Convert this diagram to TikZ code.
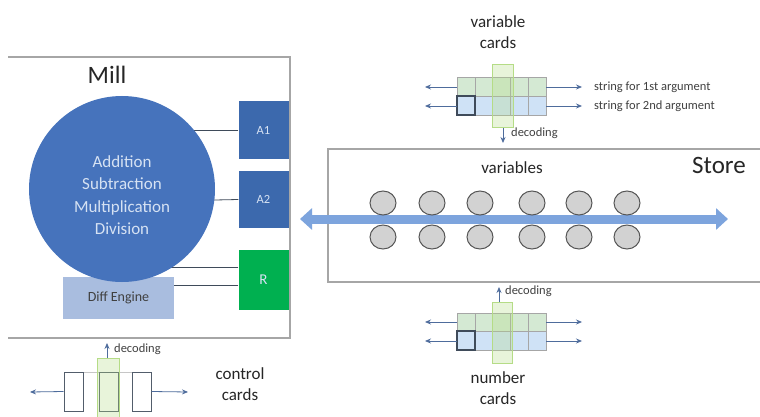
\documentclass[tikz,border=0pt]{standalone}
\usepackage{fontspec}
\setmainfont{Carlito}
\usetikzlibrary{arrows.meta}
\definecolor{millblue}{HTML}{4673BC}
\definecolor{regblue}{HTML}{3C69AD}
\definecolor{reggreen}{HTML}{00B050}
\definecolor{diffblue}{HTML}{A9BDDF}
\definecolor{circtext}{HTML}{D6E2F3}
\definecolor{bigarrow}{HTML}{7DA4DD}
\definecolor{cardarrowc}{HTML}{4E6C9C}
\definecolor{cardgreen}{HTML}{D4E9D3}
\definecolor{cardblue}{HTML}{CFE2F6}
\definecolor{barline}{HTML}{B5DC86}
\definecolor{framegray}{HTML}{A6A6A6}
\definecolor{linkgray}{HTML}{3F4B5A}
\definecolor{varfill}{HTML}{D2D2D2}
\definecolor{varline}{HTML}{555555}
\tikzset{
  x=1pt, y=-1pt,
  frame/.style={draw=framegray, line width=1.1pt},
  regbox/.style={rectangle, fill=regblue, text=circtext, minimum width=50pt, font=\fontsize{12.5}{14}\selectfont, inner sep=0pt},
  link/.style={draw=linkgray, line width=0.8pt},
  varcirc/.style={ellipse, draw=varline, fill=varfill, line width=1pt, minimum width=26pt, minimum height=24pt, inner sep=0pt},
  cardarrow/.style={draw=cardarrowc, line width=0.8pt, -{Stealth[length=6pt,width=5pt]}},
  cellgreen/.style={fill=cardgreen, draw=gray!70, line width=0.5pt},
  cellblue/.style={fill=cardblue, draw=gray!70, line width=0.5pt},
  decbar/.style={draw=barline, line width=1pt, fill=barline, fill opacity=0.3},
  smalltext/.style={font=\fontsize{12.5}{14}\selectfont, text=black!75, inner sep=0pt},
  midtext/.style={font=\fontsize{17}{21}\selectfont, text=black!85, align=center, inner sep=0pt},
  bigtext/.style={font=\fontsize{25}{28}\selectfont, text=black!85, inner sep=0pt},
  ctlcard/.style={rectangle, draw=linkgray!90, line width=1pt, fill=white, minimum width=19pt, minimum height=39pt, inner sep=0pt}
}
\usetikzlibrary{shapes.geometric}
\begin{document}
\begin{tikzpicture}
\useasboundingbox[fill=white] (0,0) rectangle (760,417);

% ---------- Mill ----------
\draw[frame] (8,57) -- (290,57) -- (290,338) -- (8,338);
\node[bigtext] (milltitle) at (107,75) {Mill};

\node[rectangle, fill=diffblue, minimum width=111pt, minimum height=42pt, inner sep=0pt,
      font=\fontsize{14}{16}\selectfont, text=black!75] (diff) at (118.5,298) {\raisebox{-4pt}{Diff Engine}};

\node[regbox, minimum height=58pt] (A1) at (263.5,130) {A1};
\node[regbox, minimum height=57pt] (A2) at (263.5,199.5) {A2};
\node[regbox, minimum height=60pt, fill=reggreen, font=\fontsize{15}{17}\selectfont] (R) at (263.5,280) {R};

\draw[link] (A1.west) -- (122,130);
\draw[link] (A2.west) -- (122,202);
\draw[link] ([yshift=13pt]R.west) -- (122,267);
\draw[link] ([yshift=-5pt]R.west) -- (diff.east |- 0,285);

\node[circle, fill=millblue, minimum size=186pt, inner sep=0pt] (ops) at (122,189) {};
\node[text=circtext, align=center, inner sep=0pt, font=\fontsize{17}{22.5}\selectfont]
      (opstext) at (122,195) {Addition\\Subtraction\\Multiplication\\Division};

% ---------- Store ----------
\draw[frame] (760,149) -- (328,149) -- (328,282) -- (760,282);
\node[bigtext] (storetitle) at (719,165) {Store};
\node[midtext] (vars) at (512,168) {variables};

\coordinate (bl) at (300,219);
\coordinate (br) at (728,219);
\draw[bigarrow, line width=9pt, {Triangle[length=12pt,width=21pt]}-{Triangle[length=12pt,width=21pt]}] (bl) -- (br);

\foreach \i/\x in {1/383,2/432,3/480,4/532,5/579,6/627}{
  \node[varcirc] (vt\i) at (\x,203) {};
  \node[varcirc] (vb\i) at (\x,237) {};
}

% ---------- variable cards ----------
\node[midtext] (vclabel) at (498,32) {variable\\cards};
\foreach \c in {0,...,4}{
  \draw[cellgreen] ({457+17.8*\c},77) rectangle ({457+17.8*(\c+1)},96);
  \draw[cellblue]  ({457+17.8*\c},96) rectangle ({457+17.8*(\c+1)},115);
}
\node[rectangle, minimum width=89pt, minimum height=38pt, inner sep=0pt] (vgrid) at (501.5,96) {};
\draw[draw=linkgray, line width=1.4pt] (457,96) rectangle (474.8,115);
\draw[decbar] (492,65) rectangle (513,128);
\coordinate (vbar) at (503,128);
\coordinate (vl1) at (425,87);
\coordinate (vl2) at (425,106);
\coordinate (vr1) at (582,87);
\coordinate (vr2) at (582,106);
\draw[cardarrow] (vgrid.west |- vl1) -- (vl1);
\draw[cardarrow] (vgrid.west |- vl2) -- (vl2);
\draw[cardarrow] (vgrid.east |- vr1) -- (vr1);
\draw[cardarrow] (vgrid.east |- vr2) -- (vr2);
\node[smalltext, anchor=west] (s1) at (594,87) {string for 1st argument};
\node[smalltext, anchor=west] (s2) at (594,106) {string for 2nd argument};
\coordinate (vdec) at (503,143);
\draw[cardarrow] (vbar) -- (vdec);
\node[smalltext, anchor=west] (vdectext) at (511,133) {decoding};

% ---------- number cards ----------
\foreach \c in {0,...,4}{
  \draw[cellgreen] ({457+17.8*\c},313) rectangle ({457+17.8*(\c+1)},331);
  \draw[cellblue]  ({457+17.8*\c},331) rectangle ({457+17.8*(\c+1)},350);
}
\node[rectangle, minimum width=89pt, minimum height=37pt, inner sep=0pt] (ngrid) at (501.5,331.5) {};
\draw[draw=linkgray, line width=1.4pt] (457,331) rectangle (474.8,350);
\draw[decbar] (492,302) rectangle (512,363);
\coordinate (nbar) at (499,302);
\coordinate (nl1) at (425,322);
\coordinate (nl2) at (425,341);
\coordinate (nr1) at (582,322);
\coordinate (nr2) at (582,341);
\draw[cardarrow] (ngrid.west |- nl1) -- (nl1);
\draw[cardarrow] (ngrid.west |- nl2) -- (nl2);
\draw[cardarrow] (ngrid.east |- nr1) -- (nr1);
\draw[cardarrow] (ngrid.east |- nr2) -- (nr2);
\coordinate (ndec) at (499,287);
\draw[cardarrow] (nbar) -- (ndec);
\node[smalltext, anchor=west] (ndectext) at (505,291) {decoding};
\node[midtext] (nclabel) at (498,388) {number\\cards};

% ---------- control cards ----------
\draw[draw=gray!45, line width=0.6pt] (73,372) -- (142,372);
\node[ctlcard] (c1) at (73.5,391.5) {};
\node[ctlcard] (c2) at (108.5,391.5) {};
\node[ctlcard] (c3) at (141.5,391.5) {};
\draw[decbar] (97,358) rectangle (119,420);
\coordinate (cl) at (30,392);
\coordinate (cr) at (188,392);
\draw[cardarrow] (c1.west) -- (cl);
\draw[cardarrow] (c3.east) -- (cr);
\coordinate (cbar) at (107,358);
\coordinate (cdec) at (107,343);
\draw[cardarrow] (cbar) -- (cdec);
\node[smalltext, anchor=west] (cdectext) at (114,349) {decoding};
\node[midtext] (cclabel) at (240,384) {control\\cards};
\end{tikzpicture}
\end{document}
